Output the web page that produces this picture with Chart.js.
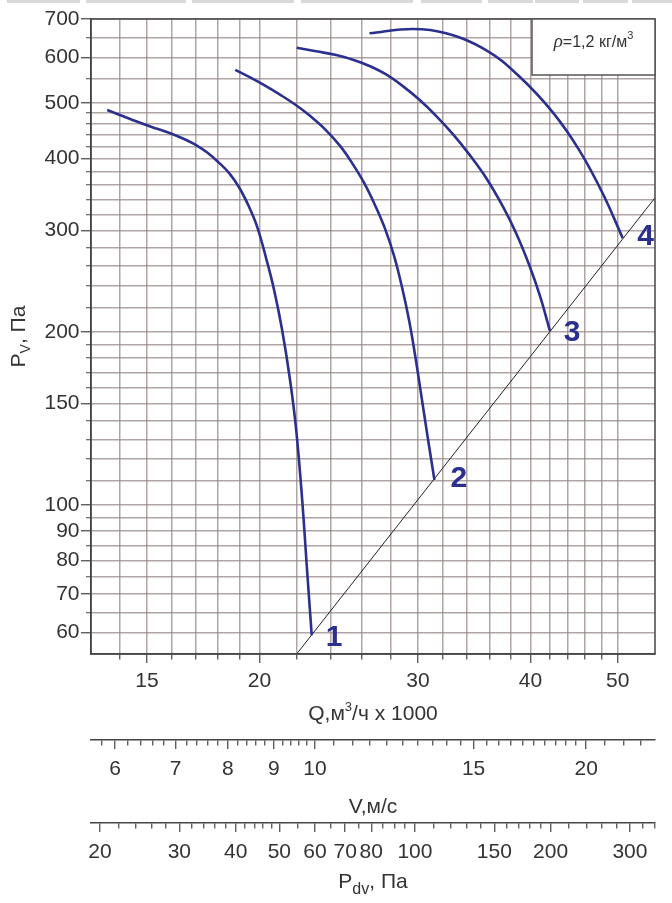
<!DOCTYPE html>
<html>
<head>
<meta charset="utf-8">
<script src="https://cdn.jsdelivr.net/npm/chart.js@4.4.1/dist/chart.umd.min.js"></script>
<style>
    html, body { margin: 0; padding: 0; background: #fff; }
    #wrap { width: 672px; height: 903px; }
</style>
</head>
<body>
<div id="wrap"><canvas id="fan-chart" width="672" height="903"></canvas></div>
<script>
// ===== Data =====
const curve1Q = [13.55, 14.37, 15.13, 15.92, 16.54, 17.01, 17.5, 18.0, 18.51, 18.99, 19.48, 19.89, 20.37, 20.77, 21.2, 21.63, 21.97, 22.31, 22.59, 22.86];
const curve1P = [486, 469, 455, 443, 432, 422.5, 410, 394.6, 377.6, 356.4, 329.6, 304.2, 266.5, 236, 201, 164.7, 135, 102, 77, 59.3];

const curve2Q = [18.8, 19.53, 20.29, 21.08, 21.91, 22.76, 23.66, 24.58, 25.35, 26.14, 26.88, 27.58, 28.22, 28.8, 29.32, 29.78, 30.24, 30.75, 31.29];
const curve2P = [571, 554, 536, 517, 497, 475, 450, 421, 393, 363, 332, 302, 271, 239, 209.6, 182, 155.8, 131.2, 110.4];

const curve3Q = [22.0, 23.12, 24.34, 25.55, 26.5, 27.65, 28.86, 30.09, 31.42, 32.82, 34.2, 35.7, 37.27, 38.55, 39.88, 40.99, 42.04];
const curve3P = [624, 615, 606, 593, 580, 560.6, 535, 507, 475, 441, 407, 370.6, 330.4, 297, 261, 230.7, 200.7];

const curve4Q = [26.5, 29.6, 32.23, 35.7, 38.88, 42.33, 45.31, 48.12, 50.64];
const curve4P = [661, 672.5, 661, 618, 556, 482, 414, 348, 291];

// system line P ~ Q^2 (two end points read at the frame edges)
const systemQ = [22, 55];
const systemP = [55, 342];

const curveNames = ['1', '2', '3', '4'];
const nameQ = [24.2, 33.3, 44.5, 53.7];
const nameP = [58.6, 110.8, 199, 293];

// ===== Axes =====
const qTicks = [14, 15, 16, 17, 18, 19, 20, 22, 24, 26, 28, 30, 32, 34, 36, 38, 40, 42, 44, 46, 48, 50];
const qLabels = [15, 20, 30, 40, 50];

const pvTicks = [60, 65, 70, 75, 80, 85, 90, 95, 100, 110, 120, 130, 140, 150, 160, 170, 180, 190, 200,
    220, 240, 260, 280, 300, 320, 340, 360, 380, 400, 420, 440, 460, 480, 500, 550, 600, 650, 700];
const pvLabels = [60, 70, 80, 90, 100, 150, 200, 300, 400, 500, 600, 700];

const vTicks = [5.8, 6, 6.2, 6.4, 6.6, 6.8, 7, 7.2, 7.4, 7.6, 7.8, 8, 8.2, 8.4, 8.6, 8.8, 9, 9.2, 9.4, 9.6, 9.8,
    10, 10.5, 11, 11.5, 12, 12.5, 13, 13.5, 14, 14.5, 15, 15.5, 16, 16.5, 17, 17.5, 18, 18.5, 19, 19.5, 20, 21, 22, 23];
const vLabels = [6, 7, 8, 9, 10, 15, 20];

const pdvTicks = [20, 22, 24, 26, 28, 30, 32, 34, 36, 38, 40, 42, 44, 46, 48, 50, 55, 60, 65, 70, 75, 80, 85, 90, 95,
    100, 110, 120, 130, 140, 150, 160, 170, 180, 190, 200, 220, 240, 260, 280, 300, 320, 340];
const pdvLabels = [20, 30, 40, 50, 60, 70, 80, 100, 150, 200, 300];

const qRange = [13, 55];
const pvRange = [55, 700];
const vRange = [5.64, 23.85];
const pdvRange = [19.1, 341];

// ===== Styles =====
const FONT = '"Liberation Sans", Arial, sans-serif';
const TEXT = '#333333';
const AXIS = '#444444';
const GRID = 'rgba(150, 135, 135, 0.75)';
const BLUE = '#2b2f8e';

const toPoints = (qs, ps) => qs.map((q, i) => ({ x: q, y: ps[i] }));

function curveSet(qs, ps) {
    return {
        data: toPoints(qs, ps),
        borderColor: BLUE,
        borderWidth: 2.6,
        pointRadius: 0,
        fill: false,
        tension: 0.4,
        xAxisID: 'x',
        yAxisID: 'y'
    };
}

// bottom log axis; minor ticks are cut short with a dash
function bottomAxis(range, tickList, labelList, weight, height, padding, onChart) {
    return {
        type: 'logarithmic',
        position: 'bottom',
        weight,
        min: range[0],
        max: range[1],
        bounds: 'data',
        afterBuildTicks: s => { s.ticks = tickList.map(v => ({ value: v })); },
        afterFit: s => { s.height = height; s.paddingLeft = 0; s.paddingRight = 0; },
        ticks: {
            autoSkip: false, maxRotation: 0, minRotation: 0, padding,
            color: TEXT, font: { family: FONT, size: 21 },
            callback: v => labelList.includes(v) ? String(v) : ''
        },
        grid: {
            drawOnChartArea: onChart,
            color: GRID,
            lineWidth: 1.5,
            tickLength: 9,
            tickColor: AXIS,
            tickWidth: 1.2,
            tickBorderDash: c => (c.tick && labelList.includes(c.tick.value)) ? [] : [5, 100]
        },
        border: { color: AXIS, width: 1.5 }
    };
}

// text with sub/superscripts, runs drawn one after another
function drawRuns(ctx, runs, x, y) {
    let total = 0;
    runs.forEach(r => { ctx.font = r.font; total += ctx.measureText(r.t).width; });
    let cx = x - total / 2;
    runs.forEach(r => {
        ctx.font = r.font;
        ctx.fillText(r.t, cx, y + (r.dy || 0));
        cx += ctx.measureText(r.t).width;
    });
}

const extras = {
    id: 'extras',
    beforeDraw(chart) {
        const ctx = chart.ctx;
        ctx.save();
        ctx.fillStyle = '#d9d9d9';
        [[7, 80], [86, 186], [192, 294], [301, 413], [421, 482], [488, 533], [535, 579], [583, 628], [632, 672]]
            .forEach(([a, b]) => ctx.fillRect(a, 0, b - a, 3));
        ctx.restore();
    },
    afterDraw(chart) {
        const { ctx, chartArea: a, scales } = chart;
        ctx.save();

        // frame
        ctx.strokeStyle = AXIS;
        ctx.lineWidth = 1.5;
        ctx.strokeRect(a.left, a.top, a.right - a.left, a.bottom - a.top);

        // curve numbers
        ctx.fillStyle = BLUE;
        ctx.font = `bold 30px ${FONT}`;
        ctx.textAlign = 'center';
        ctx.textBaseline = 'middle';
        curveNames.forEach((n, i) => {
            ctx.fillText(n, scales.x.getPixelForValue(nameQ[i]), scales.y.getPixelForValue(nameP[i]));
        });

        // density box
        const bw = 123, bh = 56;
        ctx.fillStyle = '#fff';
        ctx.fillRect(a.right - bw, a.top, bw, bh);
        ctx.strokeStyle = '#555';
        ctx.lineWidth = 1.5;
        ctx.strokeRect(a.right - bw, a.top, bw, bh);
        ctx.fillStyle = TEXT;
        ctx.textAlign = 'left';
        ctx.textBaseline = 'alphabetic';
        drawRuns(ctx, [
            { t: 'ρ', font: `italic 19px "Liberation Serif", serif` },
            { t: '=1,2 кг/м', font: `16px ${FONT}` },
            { t: '3', font: `11px ${FONT}`, dy: -8 }
        ], a.right - bw / 2, a.top + 28);

        // axis titles
        const mid = (a.left + a.right) / 2;
        drawRuns(ctx, [
            { t: 'Q,м', font: `21px ${FONT}` },
            { t: '3', font: `13px ${FONT}`, dy: -9 },
            { t: '/ч x 1000', font: `21px ${FONT}` }
        ], mid, scales.x.top + 66);

        drawRuns(ctx, [{ t: 'V,м/с', font: `21px ${FONT}` }], mid, scales.v.top + 73);

        drawRuns(ctx, [
            { t: 'P', font: `21px ${FONT}` },
            { t: 'dv', font: `16px ${FONT}`, dy: 6 },
            { t: ', Па', font: `21px ${FONT}` }
        ], mid, scales.p.top + 65);

        ctx.translate(18, (a.top + a.bottom) / 2);
        ctx.rotate(-Math.PI / 2);
        drawRuns(ctx, [
            { t: 'P', font: `21px ${FONT}` },
            { t: 'V', font: `14px ${FONT}`, dy: 5 },
            { t: ', Па', font: `21px ${FONT}` }
        ], 0, 7);

        ctx.restore();
    }
};

new Chart(document.getElementById('fan-chart').getContext('2d'), {
    type: 'line',
    data: {
        datasets: [
            curveSet(curve1Q, curve1P),
            curveSet(curve2Q, curve2P),
            curveSet(curve3Q, curve3P),
            curveSet(curve4Q, curve4P),
            {
                data: toPoints(systemQ, systemP),
                borderColor: '#222',
                borderWidth: 1,
                pointRadius: 0,
                fill: false,
                tension: 0,
                xAxisID: 'x',
                yAxisID: 'y'
            }
        ]
    },
    options: {
        responsive: false,
        devicePixelRatio: 1,
        animation: false,
        layout: { padding: { left: 0, right: 17, top: 19, bottom: 0 } },
        plugins: { legend: { display: false }, tooltip: { enabled: false } },
        scales: {
            x: bottomAxis(qRange, qTicks, qLabels, 0, 86, 6, true),
            v: bottomAxis(vRange, vTicks, vLabels, 1, 83, 7.5, false),
            p: bottomAxis(pdvRange, pdvTicks, pdvLabels, 2, 80, 8, false),
            y: {
                type: 'logarithmic',
                position: 'left',
                min: pvRange[0],
                max: pvRange[1],
                bounds: 'data',
                afterBuildTicks: s => { s.ticks = pvTicks.map(v => ({ value: v })); },
                afterFit: s => { s.width = 91; s.paddingTop = 0; s.paddingBottom = 0; },
                ticks: {
                    autoSkip: false, padding: 1.5,
                    color: TEXT, font: { family: FONT, size: 21 },
                    callback: v => pvLabels.includes(v) ? String(v) : ''
                },
                grid: {
                    color: GRID,
                    lineWidth: 1.5,
                    tickLength: 10,
                    tickColor: AXIS,
                    tickWidth: 1.2,
                    // minor ticks: only the 5px next to the axis
                    tickBorderDash: c => (c.tick && pvLabels.includes(c.tick.value)) ? [] : [0, 5, 5, 100]
                },
                border: { color: AXIS, width: 1.5 }
            }
        }
    },
    plugins: [extras]
});
</script>
</body>
</html>
